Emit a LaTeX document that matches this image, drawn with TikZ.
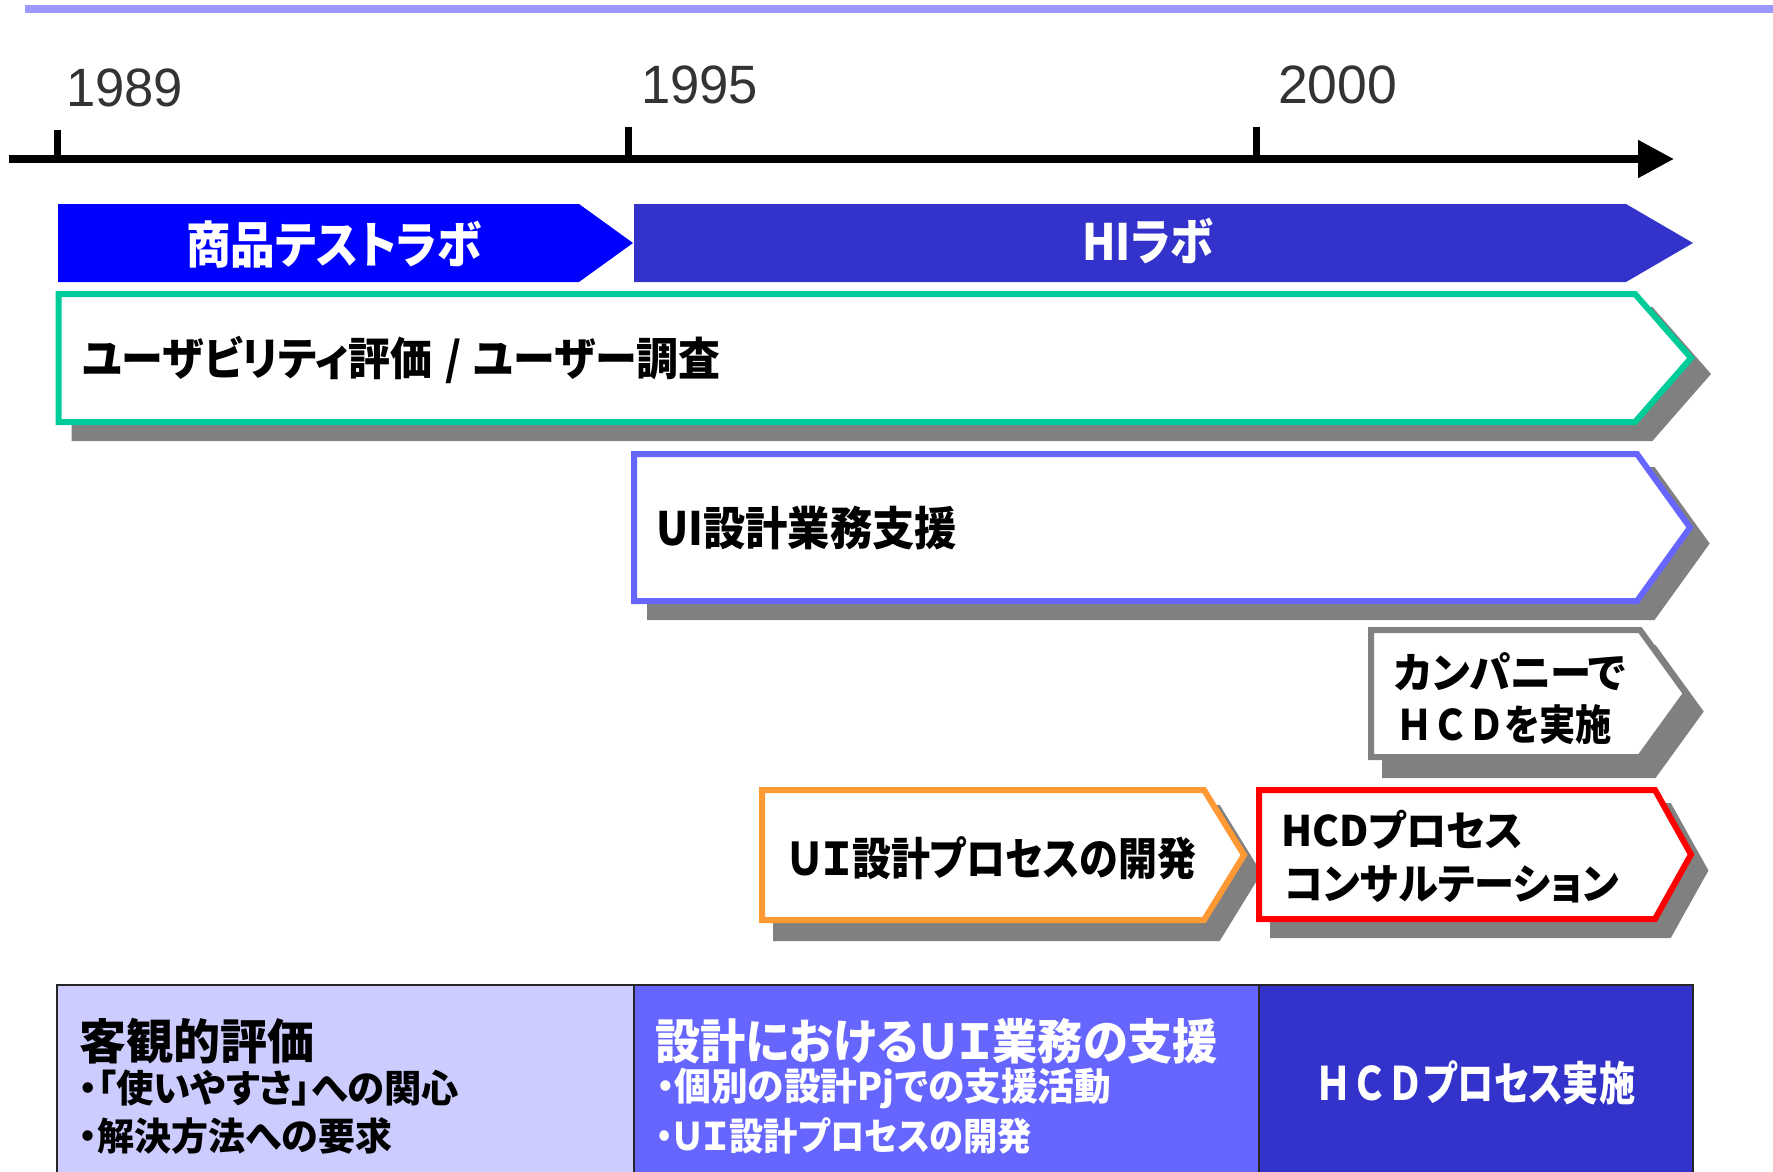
\documentclass[tikz,border=0pt]{standalone}
\usepackage{fontspec}
\usepackage{graphicx}
\setmainfont{Liberation Sans}
\newfontfamily\jp{Noto Sans CJK JP}[RawFeature=+palt]
\newfontfamily\jpw{Noto Sans CJK JP}
\usetikzlibrary{arrows.meta}
\definecolor{topline}{HTML}{9999FF}
\definecolor{barA}{HTML}{0000FF}
\definecolor{barB}{HTML}{3333CC}
\definecolor{cgreen}{HTML}{00CC99}
\definecolor{cpurple}{HTML}{6666FF}
\definecolor{cshade}{HTML}{808080}
\definecolor{corange}{HTML}{FF9933}
\definecolor{cred}{HTML}{FF0000}
\definecolor{cellA}{HTML}{CCCCFF}
\definecolor{cellB}{HTML}{6666FF}
\definecolor{cellC}{HTML}{3333CC}
\definecolor{yeartext}{HTML}{333333}
\newcommand\ftext[3]{\fontsize{#1}{#1}\selectfont\resizebox{#2pt}{\height}{#3}}
\newcommand\penta[5]{(#1,#2) -- (#3,#2) -- (#4,{(#2+#5)/2}) -- (#3,#5) -- (#1,#5) -- cycle}
\tikzset{
  jt/.style={inner sep=0pt, anchor=west, font=\jp\bfseries},
  jtw/.style={jt, text=white},
  yr/.style={inner sep=0pt, anchor=west, text=yeartext},
  shadowshape/.style={fill=cshade, draw=cshade, line width=6pt, line join=miter},
  outlinebox/.style={fill=white, line width=6pt, line join=miter},
  tickmark/.style={line width=7pt},
  cellbox/.style={draw=black!85, line width=1.6pt},
}
\begin{document}
\begin{tikzpicture}[x=1pt,y=-1pt]
\useasboundingbox (0,0) rectangle (1773,1172);
% top line
\coordinate (tlA) at (25,9);
\coordinate (tlB) at (1773,9);
\draw[topline, line width=8pt] (tlA) -- (tlB);
% axis
\coordinate (axA) at (9,159);
\coordinate (axB) at (1674,159);
\draw[line width=8pt, -{Triangle[length=36pt,width=36pt]}] (axA) -- (axB);
\coordinate (k1a) at (57,130); \coordinate (k1b) at (57,160);
\coordinate (k2a) at (628,127); \coordinate (k2b) at (628,160);
\coordinate (k3a) at (1256,127); \coordinate (k3b) at (1256,160);
\draw[tickmark] (k1a) -- (k1b);
\draw[tickmark] (k2a) -- (k2b);
\draw[tickmark] (k3a) -- (k3b);
\node[yr] (y1989) at (66,87.5) {\ftext{54}{117}{1989}};
\node[yr] (y1995) at (641,84.5) {\ftext{54}{117}{1995}};
\node[yr] (y2000) at (1278,84.5) {\ftext{54}{119}{2000}};
% lab bars
\fill[barA] \penta{58}{204}{579}{633}{282};
\fill[barB] \penta{634}{204}{1626}{1693}{282};
\node[jtw] (labA) at (186,245) {\ftext{50}{295}{商品テストラボ}};
\node[jtw] (labB) at (1082,241) {\ftext{50}{131}{HIラボ}};
% green box
\fill[shadowshape, shift={(16,16)}] \penta{58.5}{294}{1635}{1691}{422};
\draw[outlinebox, draw=cgreen] \penta{58.5}{294}{1635}{1691}{422};
\node[jt] (usab) at (82,360) {\ftext{45}{638}{ユーザビリティ評価\hspace{0.3em}/\hspace{0.3em}ユーザー調査}};
% purple box
\fill[shadowshape, shift={(16,16)}] \penta{634}{454}{1637}{1690}{601};
\draw[outlinebox, draw=cpurple] \penta{634}{454}{1637}{1690}{601};
\node[jt] (uisup) at (656,528) {\ftext{46}{301}{UI設計業務支援}};
% gray box
\fill[shadowshape, shift={(14,18)}] \penta{1371}{630}{1640}{1686}{757};
\draw[outlinebox, draw=cshade] \penta{1371}{630}{1640}{1686}{757};
\node[jt] (compA) at (1394,672) {\ftext{42}{232}{カンパニーで}};
\node[jt] (compB) at (1396,725) {\ftext{42}{216}{{\jpw ＨＣＤ}を実施}};
% orange box
\fill[shadowshape, shift={(14,18)}] \penta{762}{790}{1204}{1244}{920};
\draw[outlinebox, draw=corange] \penta{762}{790}{1204}{1244}{920};
\node[jt] (uiproc) at (788,858) {\ftext{45}{408}{ＵＩ設計プロセスの開発}};
% red box
\fill[shadowshape, shift={(14,16)}] \penta{1259}{790}{1655}{1691}{919};
\draw[outlinebox, draw=cred] \penta{1259}{790}{1655}{1691}{919};
\node[jt] (hcdA) at (1281,830) {\ftext{42}{242}{HCDプロセス}};
\node[jt] (hcdB) at (1284,884) {\ftext{42}{335}{コンサルテーション}};
% bottom table
\fill[cellA] (57,985) rectangle (634,1180);
\fill[cellB] (634,985) rectangle (1259,1180);
\fill[cellC] (1259,985) rectangle (1693,1180);
\draw[cellbox] (57,1180) -- (57,985) -- (1693,985) -- (1693,1180);
\draw[cellbox] (634,985) -- (634,1180);
\draw[cellbox] (1259,985) -- (1259,1180);
\node[jt] (cAa) at (79,1041) {\ftext{48}{235}{客観的評価}};
\node[jt] (cAb) at (79,1088) {\ftext{38}{380}{・「使いやすさ」への関心}};
\node[jt] (cAc) at (79,1136) {\ftext{38}{313}{・解決方法への要求}};
\node[jtw] (cBa) at (655,1041) {\ftext{48}{563}{設計におけるＵＩ業務の支援}};
\node[jtw] (cBb) at (656,1088) {\ftext{38}{455}{・個別の設計Pjでの支援活動}};
\node[jtw] (cBc) at (656,1136) {\ftext{38}{376}{・ＵＩ設計プロセスの開発}};
\node[jtw] (cC) at (1315,1083) {\ftext{46}{320}{{\jpw ＨＣＤ}プロセス実施}};
\end{tikzpicture}
\end{document}
